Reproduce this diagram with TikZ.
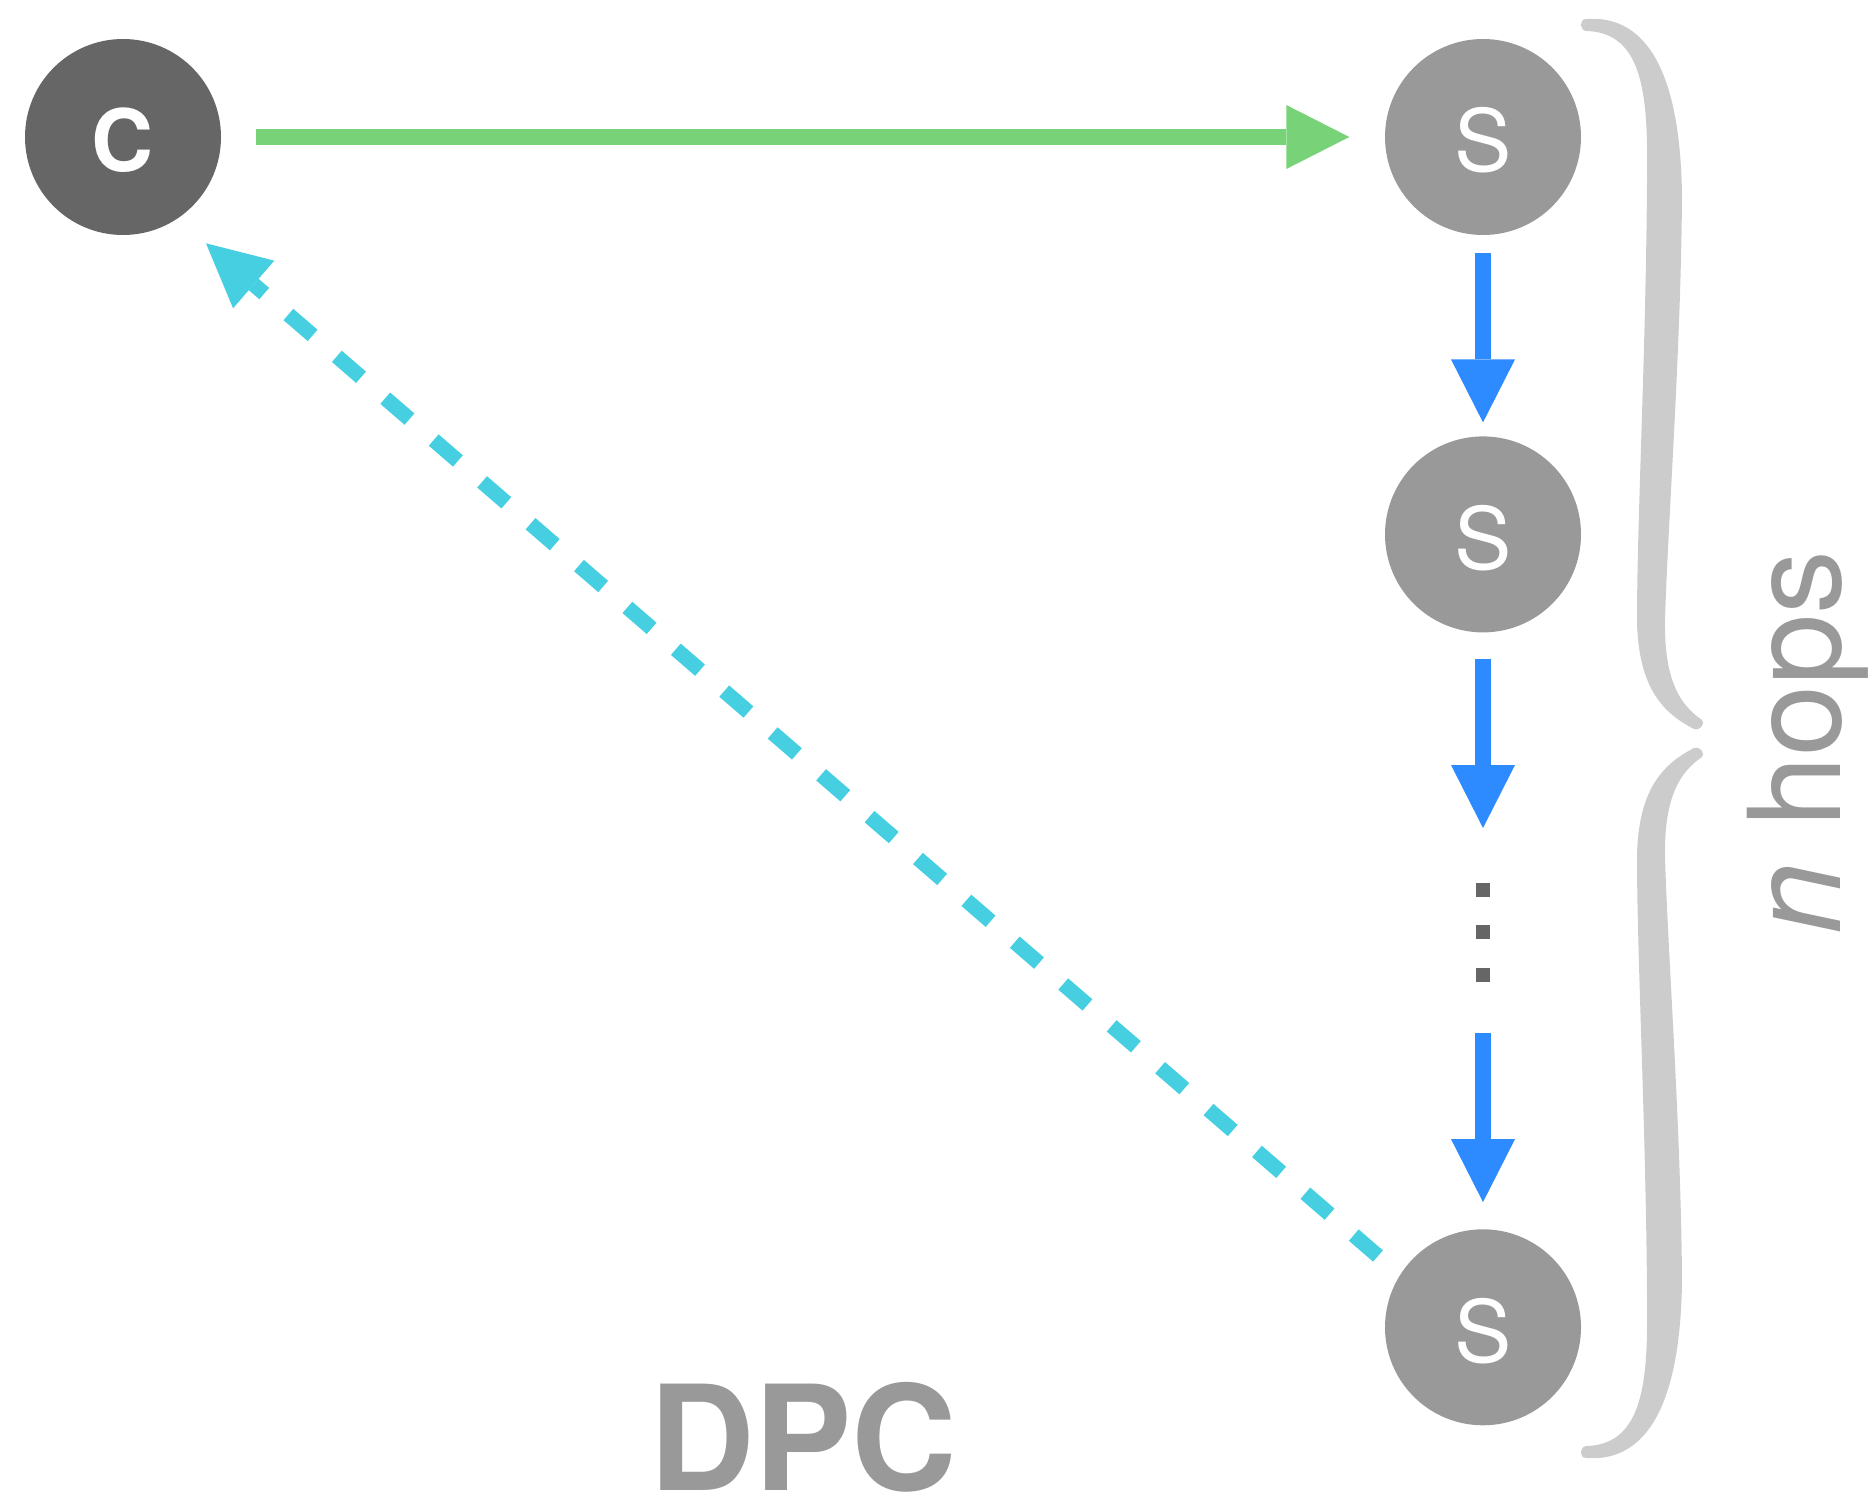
\documentclass[tikz,border=0pt]{standalone}
\usepackage{fontspec}
\setmainfont{TeX Gyre Heros}
\usetikzlibrary{arrows.meta,calc}

\definecolor{clientgray}{HTML}{666666}
\definecolor{servergray}{HTML}{999999}
\definecolor{bracegray}{HTML}{CCCCCC}
\definecolor{labelgray}{HTML}{999999}
\definecolor{reqgreen}{HTML}{78D278}
\definecolor{hopblue}{HTML}{2E8BFF}
\definecolor{replycyan}{HTML}{46CFE0}

\tikzset{
  hostnode/.style={circle, inner sep=0pt, minimum size=196pt, text=white,
    text height=70pt, text depth=0pt},
  clientnode/.style={hostnode, fill=clientgray, font=\bfseries\fontsize{86}{100}\selectfont},
  servernode/.style={hostnode, fill=servergray, font=\fontsize{86}{100}\selectfont},
  dotnode/.style={rectangle, inner sep=0pt, minimum size=14pt, fill=clientgray},
  bigtip/.style={-{Triangle[length=63pt,width=64pt,line width=0pt]}},
  request/.style={draw=reqgreen, line width=16pt, bigtip},
  hop/.style={draw=hopblue, line width=16pt, bigtip},
  reply/.style={draw=replycyan, line width=15pt, dash pattern=on 32pt off 32pt,
    -{Triangle[length=63pt,width=63pt,line width=0pt]}},
}

% one half of the curly brace (upper half, tip pointing right)
\newcommand\bracehalfpath{%
  \fill[bracegray]
    (1586,19) .. controls (1640,15) and (1680,60) .. (1682,195)
    .. controls (1681,350) and (1668,520) .. (1665,620)
    .. controls (1664,680) and (1680,705) .. (1702,720)
    .. controls (1706,723) and (1699,732) .. (1694,729)
    .. controls (1665,714) and (1638,690) .. (1637,620)
    .. controls (1637,520) and (1646,350) .. (1647,180)
    .. controls (1648,100) and (1645,33) .. (1587,31)
    .. controls (1579,31) and (1579,19) .. (1586,19) -- cycle;}

\begin{document}
\begin{tikzpicture}[x=1pt, y=-1pt]
\useasboundingbox (0,0) rectangle (1869,1503);

% hosts
\node[clientnode] (c)  at (123,137)  {C};
\node[servernode] (s1) at (1483,137) {S};
\node[servernode] (s2) at (1483,534.4) {S};
\node[servernode] (s3) at (1483,1327.3) {S};

% vertical ellipsis between the hops
\node[dotnode] (d1) at (1483,889.5) {};
\node[dotnode] (d2) at (1483,932)   {};
\node[dotnode] (d3) at (1483,974.7) {};

% request from the client to the first server
\draw[request, shorten <=35.2pt, shorten >=35.5pt] (c) -- (s1);

% forwarding hops
\draw[hop, shorten <=17.9pt, shorten >=13.8pt] (s1) -- (s2);
\draw[hop, shorten <=26pt,   shorten >=54.3pt] (s2) -- (d1);
\draw[hop, shorten <=51.3pt, shorten >=27pt]   (d3) -- (s3);

% direct reply from the last server back to the client
\coordinate (replystart) at ($(s3)+(-105,-71.3)$);
\coordinate (replyend)   at ($(c)+(83,106.3)$);
\draw[reply] (replystart) -- (replyend);

% brace spanning the chain of servers
\bracehalfpath
\begin{scope}[shift={(0,1477)}, yscale=-1]
  \bracehalfpath
\end{scope}

% labels
\node[rotate=90, anchor=base, text=labelgray, inner sep=0pt,
      font=\fontsize{128}{150}\selectfont] (hops) at (1840,742.5) {\textit{n} hops};
\node[anchor=base, text=labelgray, inner sep=0pt,
      font=\bfseries\fontsize{146}{170}\selectfont] (dpc) at (803.3,1490) {DPC};
\end{tikzpicture}
\end{document}
